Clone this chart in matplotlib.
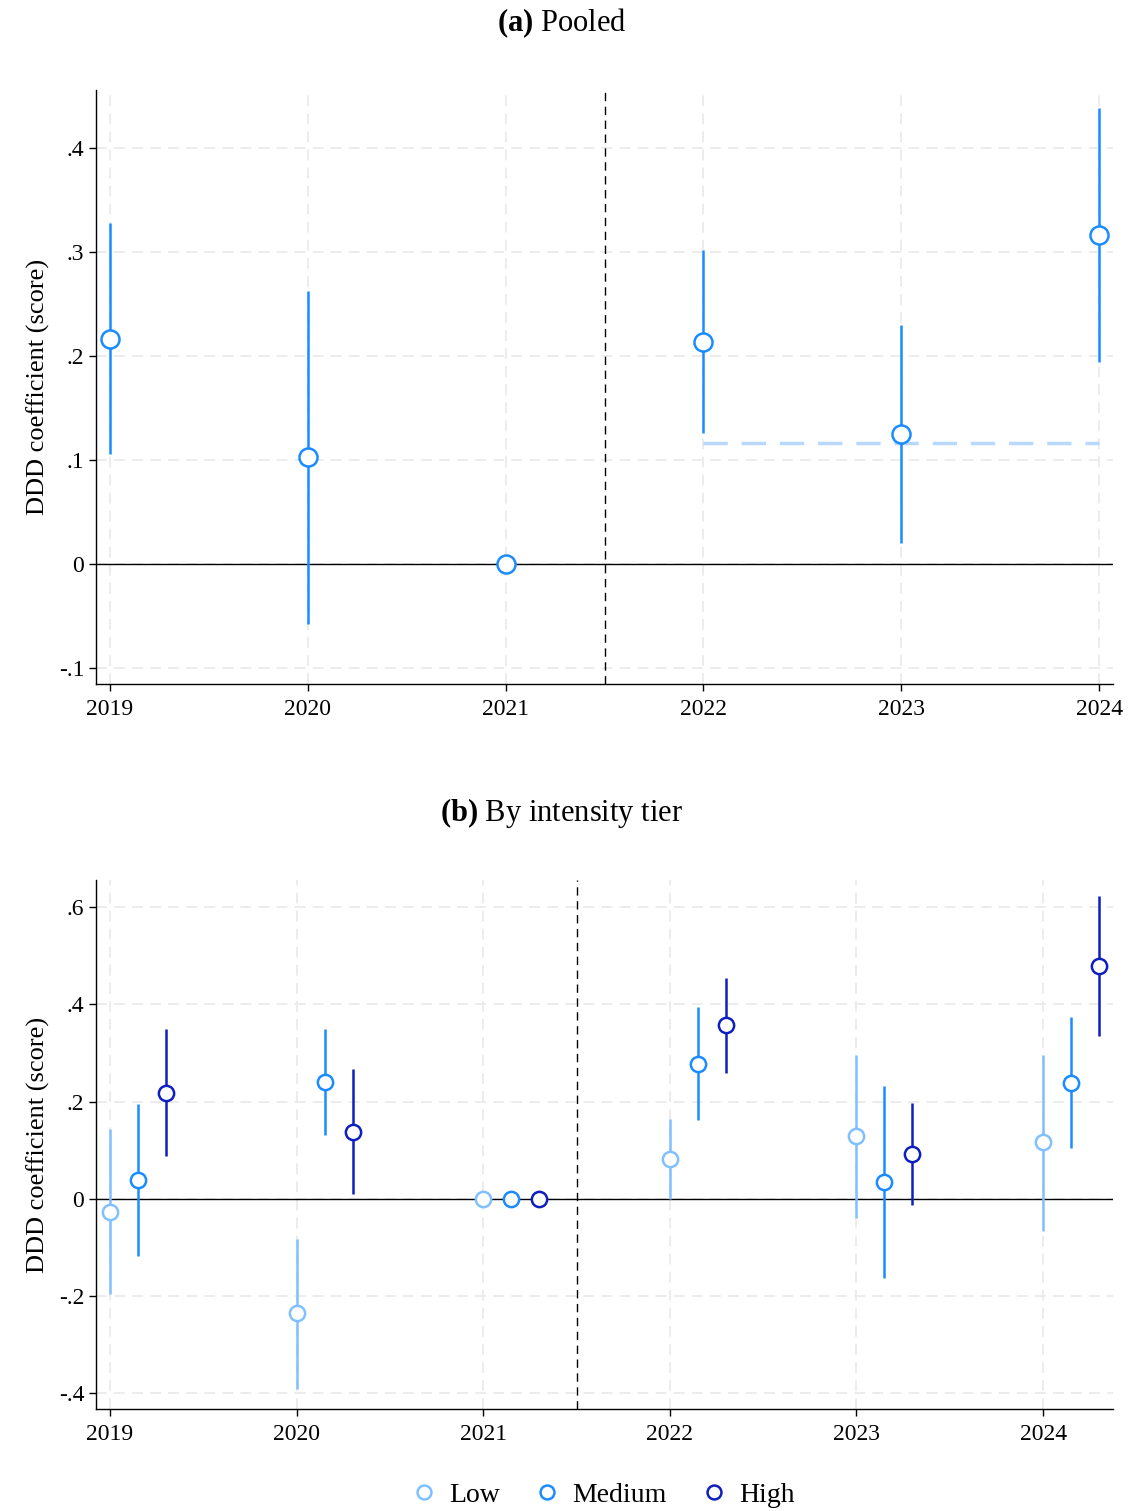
import numpy as np
import matplotlib
matplotlib.use("Agg")
import matplotlib.pyplot as plt
from matplotlib.lines import Line2D

plt.rcParams['font.family'] = ['Liberation Serif', 'DejaVu Serif']
plt.rcParams['mathtext.fontset'] = 'custom'
plt.rcParams['mathtext.rm'] = 'Liberation Serif'
plt.rcParams['mathtext.bf'] = 'Liberation Serif:bold'

# panel (a): pooled estimates
years = [2019, 2020, 2021, 2022, 2023, 2024]
pooled_coef = [0.217, 0.103, 0.0, 0.214, 0.125, 0.317]
pooled_lo = [0.106, -0.057, 0.0, 0.126, 0.021, 0.195]
pooled_hi = [0.328, 0.263, 0.0, 0.302, 0.230, 0.439]
pooled_post_mean = 0.117

# panel (b): by intensity tier
tiers = ['Low', 'Medium', 'High']
low_coef = [-0.028, -0.236, 0.0, 0.081, 0.128, 0.116]
low_lo = [-0.197, -0.392, 0.0, 0.0, -0.040, -0.066]
low_hi = [0.143, -0.082, 0.0, 0.165, 0.295, 0.296]
med_coef = [0.039, 0.240, 0.0, 0.278, 0.034, 0.239]
med_lo = [-0.117, 0.132, 0.0, 0.162, -0.164, 0.104]
med_hi = [0.195, 0.350, 0.0, 0.394, 0.231, 0.374]
high_coef = [0.218, 0.138, 0.0, 0.357, 0.092, 0.479]
high_lo = [0.088, 0.010, 0.0, 0.258, -0.013, 0.334]
high_hi = [0.350, 0.267, 0.0, 0.455, 0.197, 0.623]

colors = {'Low': '#80c0ff', 'Medium': '#1a8cff', 'High': '#0f1fbf'}
offsets = {'Low': 0.0, 'Medium': 0.15, 'High': 0.3}


def style_axis(ax, yticks, ylabels):
    ax.set_yticks(yticks)
    ax.set_yticklabels(ylabels)
    ax.set_xticks(years)
    ax.set_xticklabels([str(y) for y in years])
    ax.grid(True, color='#ebebeb', linestyle=(0, (6, 4)), linewidth=1.3)
    ax.set_axisbelow(True)
    for s in ['top', 'right']:
        ax.spines[s].set_visible(False)
    ax.spines['left'].set_linewidth(1.0)
    ax.spines['bottom'].set_linewidth(1.0)
    ax.tick_params(axis='both', labelsize=17, length=5, width=1.0)
    ax.tick_params(axis='x', pad=6)
    ax.axhline(0, color='black', linewidth=1.0, zorder=1)
    ax.axvline(2021.5, color='black', linewidth=1.0, linestyle=(0, (6, 4)), zorder=1)
    ax.set_ylabel('DDD coefficient (score)', fontsize=19, labelpad=6)


fig = plt.figure(figsize=(11.3, 15.11), dpi=100)

# --- (a) Pooled
ax1 = fig.add_axes([0.085, 0.5473, 0.9, 0.3931])
style_axis(ax1, [-0.1, 0, 0.1, 0.2, 0.3, 0.4], ['-.1', '0', '.1', '.2', '.3', '.4'])
ax1.set_xlim(2018.93, 2024.07)
ax1.set_ylim(-0.115, 0.456)
ax1.plot([2022, 2024], [pooled_post_mean, pooled_post_mean], color='#b8d8fc',
         linewidth=2.5, linestyle=(0, (7, 4)), zorder=2)
ax1.vlines(years, pooled_lo, pooled_hi, color=colors['Medium'], linewidth=1.8, zorder=3)
ax1.plot(years, pooled_coef, 'o', markersize=13, markerfacecolor='white',
         markeredgecolor=colors['Medium'], markeredgewidth=1.8, zorder=4)
fig.text(0.497, 0.9845, r'$\mathbf{(a)}$ Pooled', ha='center', va='center', fontsize=22)

# --- (b) By intensity tier
ax2 = fig.add_axes([0.085, 0.0675, 0.9, 0.3501])
style_axis(ax2, [-0.4, -0.2, 0, 0.2, 0.4, 0.6], ['-.4', '-.2', '0', '.2', '.4', '.6'])
ax2.set_xlim(2018.925, 2024.375)
ax2.set_ylim(-0.433, 0.656)

series = {'Low': (low_coef, low_lo, low_hi),
          'Medium': (med_coef, med_lo, med_hi),
          'High': (high_coef, high_lo, high_hi)}
for t in tiers:
    coef, lo, hi = series[t]
    xs = np.array(years) + offsets[t]
    ax2.vlines(xs, lo, hi, color=colors[t], linewidth=1.8, zorder=3)
    ax2.plot(xs, coef, 'o', markersize=11, markerfacecolor='white',
             markeredgecolor=colors[t], markeredgewidth=1.8, zorder=4)
fig.text(0.497, 0.4618, r'$\mathbf{(b)}$ By intensity tier', ha='center', va='center', fontsize=22)

handles = [Line2D([], [], marker='o', linestyle='none', markersize=10,
                  markerfacecolor='white', markeredgecolor=colors[t], markeredgewidth=1.8)
           for t in tiers]
fig.legend(handles, tiers, loc='center', bbox_to_anchor=(0.533, 0.0106), ncol=3,
           frameon=False, fontsize=20, handlelength=1.0, handletextpad=0.4,
           columnspacing=1.2)

fig.savefig('out.png', dpi=100)
